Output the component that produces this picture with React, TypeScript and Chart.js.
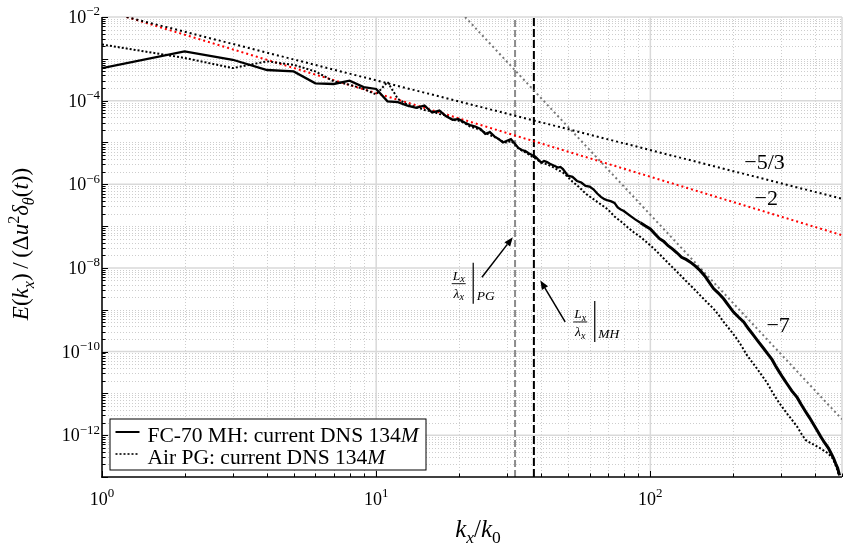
import React, { useEffect, useRef } from "react";
import { Chart, registerables } from "chart.js";

Chart.register(...registerables);

const FONT = '"Liberation Serif", "Times New Roman", serif';

// ---------- data ----------
const MH_K = [1,2,3,4,5,6,7,8,9,10,11,12,13,14,15,16,17,18,19,20,21,22,23,24,25,26,27,28,29,30,31,32,33,34,35,36,37,38,39,40,41,42,43,44,45,46,47,48,50,52,54,56,58,60,62,64,66,68,70,72,74,76,78,80,84,88,92,96,100,104,108,112,116,120,125,130,135,140,146,152,158,164,170,177,185,193,201,210,219,228,238,248,259,268,278,286,294,304,315,328,343,355,368,381,395,406,418,432,446,456,466,474,482,490];
const MH_E = [6.0e-4,1.5e-3,9.5e-4,5.4e-4,5.0e-4,2.6e-4,2.5e-4,3.0e-4,2.1e-4,1.9e-4,9.6e-5,9.2e-5,7.6e-5,6.7e-5,7.6e-5,5.2e-5,5.8e-5,4.2e-5,3.5e-5,3.6e-5,3.0e-5,2.6e-5,2.4e-5,2.1e-5,1.6e-5,1.76e-5,1.4e-5,1.2e-5,1.0e-5,1.1e-5,1.2e-5,9.5e-6,7.4e-6,6.6e-6,6.2e-6,5.5e-6,5.0e-6,4.6e-6,3.9e-6,3.3e-6,3.6e-6,3.4e-6,3.1e-6,2.9e-6,2.7e-6,2.5e-6,2.6e-6,2.3e-6,1.6e-6,1.5e-6,1.2e-6,1.1e-6,9.1e-7,8.8e-7,7.6e-7,6.0e-7,5.0e-7,4.4e-7,4.1e-7,3.9e-7,3.6e-7,2.8e-7,2.5e-7,2.3e-7,1.8e-7,1.45e-7,1.2e-7,1.0e-7,8.5e-8,6.5e-8,5.0e-8,4.3e-8,3.4e-8,2.9e-8,2.3e-8,1.8e-8,1.6e-8,1.37e-8,1.1e-8,8.6e-9,6.4e-9,4.5e-9,3.2e-9,2.5e-9,1.83e-9,1.25e-9,8.8e-10,6.6e-10,5.1e-10,3.5e-10,2.44e-10,1.7e-10,1.18e-10,8.8e-11,6.4e-11,4.6e-11,3.4e-11,2.4e-11,1.7e-11,1.15e-11,8.0e-12,5.4e-12,3.7e-12,2.6e-12,1.76e-12,1.3e-12,9.3e-13,6.6e-13,4.9e-13,3.7e-13,2.8e-13,2.1e-13,1.64e-13,1.1e-13];

const PG_K = [1,2,3,4,5,6,7,8,9,10,11,12,13,14,15,16,17,18,19,20,21,22,23,24,25,26,27,28,29,30,31,32,33,34,35,36,37,38,39,40,42,44,46,48,50,52,54,56,58,62,66,70,74,78,82,87,92,97,103,109,115,122,129,136,144,152,161,170,178,185,196,207,216,225,235,245,256,267,278,290,302,315,329,343,355,368,386,405,424,444,462,470,478,487];
const PG_E = [2.2e-3,1.05e-3,6.0e-4,8.7e-4,7.2e-4,5.0e-4,2.9e-4,2.4e-4,1.9e-4,1.4e-4,2.8e-4,1.1e-4,8.0e-5,7.0e-5,6.0e-5,5.5e-5,4.8e-5,4.4e-5,3.5e-5,3.3e-5,2.9e-5,2.4e-5,2.2e-5,2.0e-5,1.7e-5,1.5e-5,1.35e-5,1.2e-5,1.05e-5,9.8e-6,1.1e-5,9.0e-6,7.2e-6,6.4e-6,5.8e-6,5.2e-6,4.6e-6,4.2e-6,3.7e-6,3.3e-6,3.0e-6,2.6e-6,2.2e-6,1.9e-6,1.5e-6,1.15e-6,9.5e-7,7.6e-7,6.0e-7,4.4e-7,3.3e-7,2.5e-7,1.7e-7,1.3e-7,9.8e-8,7.1e-8,5.5e-8,4.1e-8,2.9e-8,2.0e-8,1.4e-8,9.5e-9,6.6e-9,4.6e-9,3.2e-9,2.2e-9,1.5e-9,1.06e-9,7.3e-10,5.1e-10,3.2e-10,2.0e-10,1.3e-10,8.2e-11,5.6e-11,3.9e-11,2.6e-11,1.75e-11,1.1e-11,7.0e-12,4.8e-12,3.3e-12,2.3e-12,1.6e-12,1.1e-12,7.7e-13,6.4e-13,5.4e-13,4.5e-13,3.7e-13,2.8e-13,2.2e-13,1.64e-13,1.1e-13];

// reference slopes (end points)
const SLOPE53_K = [1.23, 500];
const SLOPE53_E = [1e-2, 4.5e-7];
const SLOPE2_K = [1.23, 500];
const SLOPE2_E = [1e-2, 6.05e-8];
const SLOPE7_K = [21.1, 500];
const SLOPE7_E = [1e-2, 2.4e-12];

// integral length-scale markers
const LAMBDA_PG = 32.1;
const LAMBDA_MH = 37.6;

// axes
const X_MIN = 1, X_MAX = 500;
const Y_MIN = 1e-13, Y_MAX = 1e-2;
const X_DECADES = [0, 1, 2];
const Y_DECADES = [-13, -12, -11, -10, -9, -8, -7, -6, -5, -4, -3];
const X_LABEL_EXP = [0, 1, 2];
const Y_LABEL_EXP = [-2, -4, -6, -8, -10, -12];
const MINOR = [2, 3, 4, 5, 6, 7, 8, 9];

// annotations (data coordinates)
const SLOPE_LABELS = [
  { text: "\u22125/3", k: 220, e: 2.3e-6 },
  { text: "\u22122", k: 240, e: 3.2e-7 },
  { text: "\u22127", k: 265, e: 3.0e-10 },
];
const FRAC_LABELS = [
  { sub: "PG", k: 20.0, e: 4.2e-9, from: [24.3, 6.0e-9], to: [31.5, 5.4e-8] },
  { sub: "MH", k: 55.5, e: 5.1e-10, from: [48.9, 5.1e-10], to: [39.7, 5.0e-9] },
];
const LEGEND_MH = "FC-70 MH: current DNS 134";
const LEGEND_PG = "Air PG: current DNS 134";

type Run = { t: string; it?: boolean; sub?: boolean; sup?: boolean };

const fnt = (size: number, it?: boolean) => `${it ? "italic " : ""}${size}px ${FONT}`;

function runsWidth(ctx: CanvasRenderingContext2D, runs: Run[], size: number, small = 0.7) {
  let w = 0;
  for (const r of runs) {
    ctx.font = fnt(r.sub || r.sup ? size * small : size, r.it);
    w += ctx.measureText(r.t).width;
  }
  return w;
}

function drawRuns(
  ctx: CanvasRenderingContext2D, runs: Run[], x: number, y: number, size: number,
  align: "left" | "center" | "right", small = 0.7, supRaise = 0.4, subDrop = 0.22
) {
  const w = runsWidth(ctx, runs, size, small);
  let cx = align === "left" ? x : align === "center" ? x - w / 2 : x - w;
  ctx.textAlign = "left";
  ctx.textBaseline = "alphabetic";
  for (const r of runs) {
    const s = r.sub || r.sup ? size * small : size;
    ctx.font = fnt(s, r.it);
    const dy = r.sub ? size * subDrop : r.sup ? -size * supRaise : 0;
    ctx.fillText(r.t, cx, y + dy);
    cx += ctx.measureText(r.t).width;
  }
}

function seg(ctx: CanvasRenderingContext2D, x1: number, y1: number, x2: number, y2: number) {
  ctx.beginPath();
  ctx.moveTo(x1, y1);
  ctx.lineTo(x2, y2);
  ctx.stroke();
}

function arrow(ctx: CanvasRenderingContext2D, x1: number, y1: number, x2: number, y2: number) {
  const ang = Math.atan2(y2 - y1, x2 - x1);
  const L = 9, W = 3.6;
  const bx = x2 - L * Math.cos(ang), by = y2 - L * Math.sin(ang);
  ctx.lineWidth = 1.5;
  seg(ctx, x1, y1, bx, by);
  ctx.beginPath();
  ctx.moveTo(x2, y2);
  ctx.lineTo(bx + W * Math.sin(ang), by - W * Math.cos(ang));
  ctx.lineTo(bx - W * Math.sin(ang), by + W * Math.cos(ang));
  ctx.closePath();
  ctx.fill();
}

const overlay = {
  id: "overlay",
  beforeDatasetsDraw(chart: any) {
    const { ctx, chartArea: a, scales } = chart;
    const xs = scales.x, ys = scales.y;
    ctx.save();
    // minor dotted grid
    ctx.lineWidth = 1;
    ctx.strokeStyle = "#cdcdcd";
    ctx.setLineDash([1, 2]);
    for (const d of X_DECADES) {
      for (const m of MINOR) {
        const v = m * Math.pow(10, d);
        if (v >= X_MAX) continue;
        const px = Math.round(xs.getPixelForValue(v)) + 0.5;
        seg(ctx, px, a.top, px, a.bottom);
      }
    }
    for (const d of Y_DECADES) {
      for (const m of [1, ...MINOR]) {
        const v = m * Math.pow(10, d);
        if (m === 1 && Y_LABEL_EXP.includes(d)) continue;
        if (v <= Y_MIN * 1.001 || v >= Y_MAX) continue;
        const py = Math.round(ys.getPixelForValue(v)) + 0.5;
        seg(ctx, a.left, py, a.right, py);
      }
    }
    ctx.setLineDash([]);
    // major solid grid
    ctx.strokeStyle = "#d9d9d9";
    ctx.lineWidth = 1.5;
    for (const e of X_LABEL_EXP) {
      const px = xs.getPixelForValue(Math.pow(10, e));
      seg(ctx, px, a.top, px, a.bottom);
    }
    for (const e of Y_LABEL_EXP) {
      const py = ys.getPixelForValue(Math.pow(10, e));
      seg(ctx, a.left, py, a.right, py);
    }
    seg(ctx, a.right, a.top, a.right, a.bottom);
    ctx.restore();
  },
  afterDatasetsDraw(chart: any) {
    const { ctx, chartArea: a, scales } = chart;
    const xs = scales.x, ys = scales.y;
    ctx.save();
    ctx.fillStyle = "#000";
    ctx.strokeStyle = "#000";

    // axes lines
    ctx.lineWidth = 1.5;
    seg(ctx, a.left, a.top, a.left, a.bottom + 0.75);
    seg(ctx, a.left - 0.75, a.bottom, a.right, a.bottom);

    // inner ticks
    ctx.lineWidth = 1;
    for (const d of [...Y_DECADES, -2]) {
      const py = Math.round(ys.getPixelForValue(Math.pow(10, d))) + 0.5;
      seg(ctx, a.left, py, a.left + 6, py);
      if (d < -2) {
        for (const m of MINOR) {
          const q = Math.round(ys.getPixelForValue(m * Math.pow(10, d))) + 0.5;
          seg(ctx, a.left, q, a.left + 3.5, q);
        }
      }
    }
    for (const d of X_DECADES) {
      const px = Math.round(xs.getPixelForValue(Math.pow(10, d))) + 0.5;
      seg(ctx, px, a.bottom, px, a.bottom - 6);
      for (const m of MINOR) {
        const v = m * Math.pow(10, d);
        if (v > X_MAX) continue;
        const q = Math.round(xs.getPixelForValue(v)) + 0.5;
        seg(ctx, q, a.bottom, q, a.bottom - 3.5);
      }
    }

    // tick labels
    for (const e of Y_LABEL_EXP) {
      const py = ys.getPixelForValue(Math.pow(10, e));
      drawRuns(ctx, [{ t: "10" }, { t: "\u2212" + Math.abs(e), sup: true }], a.left - 2, py + 6, 18, "right", 0.72, 0.42);
    }
    for (const e of X_LABEL_EXP) {
      const px = xs.getPixelForValue(Math.pow(10, e));
      drawRuns(ctx, [{ t: "10" }, { t: String(e), sup: true }], px, a.bottom + 28, 18, "center", 0.72, 0.42);
    }

    // axis titles
    drawRuns(ctx, [
      { t: "k", it: true }, { t: "x", it: true, sub: true }, { t: "/" },
      { t: "k", it: true }, { t: "0", sub: true },
    ], (a.left + a.right) / 2 + 6, a.bottom + 60, 25, "center", 0.7, 0.4, 0.22);

    ctx.save();
    ctx.translate(28, (a.top + a.bottom) / 2 - 3);
    ctx.rotate(-Math.PI / 2);
    drawRuns(ctx, [
      { t: "E", it: true }, { t: "(" }, { t: "k", it: true }, { t: "x", it: true, sub: true }, { t: ")" },
      { t: "\u2009/\u2009" }, { t: "(" }, { t: "\u0394" }, { t: "u", it: true }, { t: "2", sup: true },
      { t: "\u03b4", it: true }, { t: "\u03b8", it: true, sub: true }, { t: "(" }, { t: "t", it: true },
      { t: ")" }, { t: ")" },
    ], 0, 0, 23, "center", 0.7, 0.4, 0.25);
    ctx.restore();

    // slope labels
    for (const s of SLOPE_LABELS) {
      drawRuns(ctx, [{ t: s.text }], xs.getPixelForValue(s.k), ys.getPixelForValue(s.e), 22, "left");
    }

    // fraction labels + arrows
    for (const f of FRAC_LABELS) {
      const cx = xs.getPixelForValue(f.k);
      const by = ys.getPixelForValue(f.e);
      drawRuns(ctx, [{ t: "L", it: true }, { t: "x", it: true, sub: true }], cx, by - 4, 13.5, "center", 0.75, 0.4, 0.2);
      ctx.lineWidth = 0.9;
      seg(ctx, cx - 7, by, cx + 7, by);
      drawRuns(ctx, [{ t: "\u03bb", it: true }, { t: "x", it: true, sub: true }], cx, by + 14, 13.5, "center", 0.75, 0.4, 0.2);
      ctx.lineWidth = 1.2;
      seg(ctx, cx + 14.5, by - 21, cx + 14.5, by + 20);
      drawRuns(ctx, [{ t: f.sub, it: true }], cx + 18, by + 16, 13.5, "left");
      arrow(ctx, xs.getPixelForValue(f.from[0]), ys.getPixelForValue(f.from[1]),
        xs.getPixelForValue(f.to[0]), ys.getPixelForValue(f.to[1]));
    }

    // legend
    const lx = a.left + 7.5, ly = a.bottom - 58.5, lw = 316, lh = 51;
    ctx.fillStyle = "#fff";
    ctx.fillRect(lx, ly, lw, lh);
    ctx.lineWidth = 1;
    ctx.strokeStyle = "#000";
    ctx.strokeRect(lx + 0.5, ly + 0.5, lw, lh);
    ctx.fillStyle = "#000";
    ctx.lineWidth = 2;
    seg(ctx, lx + 6, ly + 13.5, lx + 30, ly + 13.5);
    ctx.setLineDash([2, 2]);
    ctx.lineWidth = 1.6;
    seg(ctx, lx + 6, ly + 35.5, lx + 29, ly + 35.5);
    ctx.setLineDash([]);
    drawRuns(ctx, [{ t: LEGEND_MH }, { t: "M", it: true }], lx + 38, ly + 23.5, 21.5, "left");
    drawRuns(ctx, [{ t: LEGEND_PG }, { t: "M", it: true }], lx + 38, ly + 45.5, 21.5, "left");

    ctx.restore();
  },
};

const pts = (ks: number[], es: number[]) =>
  ks.slice(0, Math.min(ks.length, es.length)).map((k, i) => ({ x: k, y: es[i] }));

export default function App() {
  const ref = useRef<HTMLCanvasElement>(null);
  useEffect(() => {
    const canvas = ref.current;
    if (!canvas) return;
    const line = (data: any[], color: string, width: number, dash: number[], order: number, extra: any = {}) => ({
      data, borderColor: color, borderWidth: width, borderDash: dash, pointRadius: 0,
      showLine: true, fill: false, tension: 0, order, ...extra,
    });
    const chart = new Chart(canvas, {
      type: "scatter",
      data: {
        datasets: [
          line(pts(MH_K, MH_E), "#000000", 2.3, [], 0, {
            segment: { borderWidth: (c: any) => (c.p0.parsed.x > 90 ? 3 : 2.3) },
          }),
          line(pts(PG_K, PG_E), "#000000", 2, [2, 2], 1),
          line(pts(SLOPE53_K, SLOPE53_E), "#000000", 2, [2, 3], 2),
          line(pts(SLOPE2_K, SLOPE2_E), "#ff0000", 2, [2, 3], 3),
          line(pts(SLOPE7_K, SLOPE7_E), "#777777", 2, [2, 3], 4),
          line([{ x: LAMBDA_PG, y: Y_MIN }, { x: LAMBDA_PG, y: Y_MAX }], "#8c8c8c", 2, [7, 3], 5),
          line([{ x: LAMBDA_MH, y: Y_MIN }, { x: LAMBDA_MH, y: Y_MAX }], "#000000", 2, [8, 3], 5),
        ] as any,
      },
      options: {
        responsive: false,
        devicePixelRatio: 1,
        animation: false,
        events: [],
        layout: { padding: { left: 102, top: 17, right: 4, bottom: 71 } },
        plugins: { legend: { display: false }, tooltip: { enabled: false } },
        scales: {
          x: { type: "logarithmic", min: X_MIN, max: X_MAX, display: false },
          y: { type: "logarithmic", min: Y_MIN, max: Y_MAX, display: false },
        },
      } as any,
      plugins: [overlay as any],
    });
    return () => chart.destroy();
  }, []);
  return (
    <div style={{ position: "absolute", left: 0, top: 0, width: 846, height: 548, background: "#fff" }}>
      <canvas ref={ref} width={846} height={548} style={{ width: 846, height: 548, display: "block" }} />
    </div>
  );
}
